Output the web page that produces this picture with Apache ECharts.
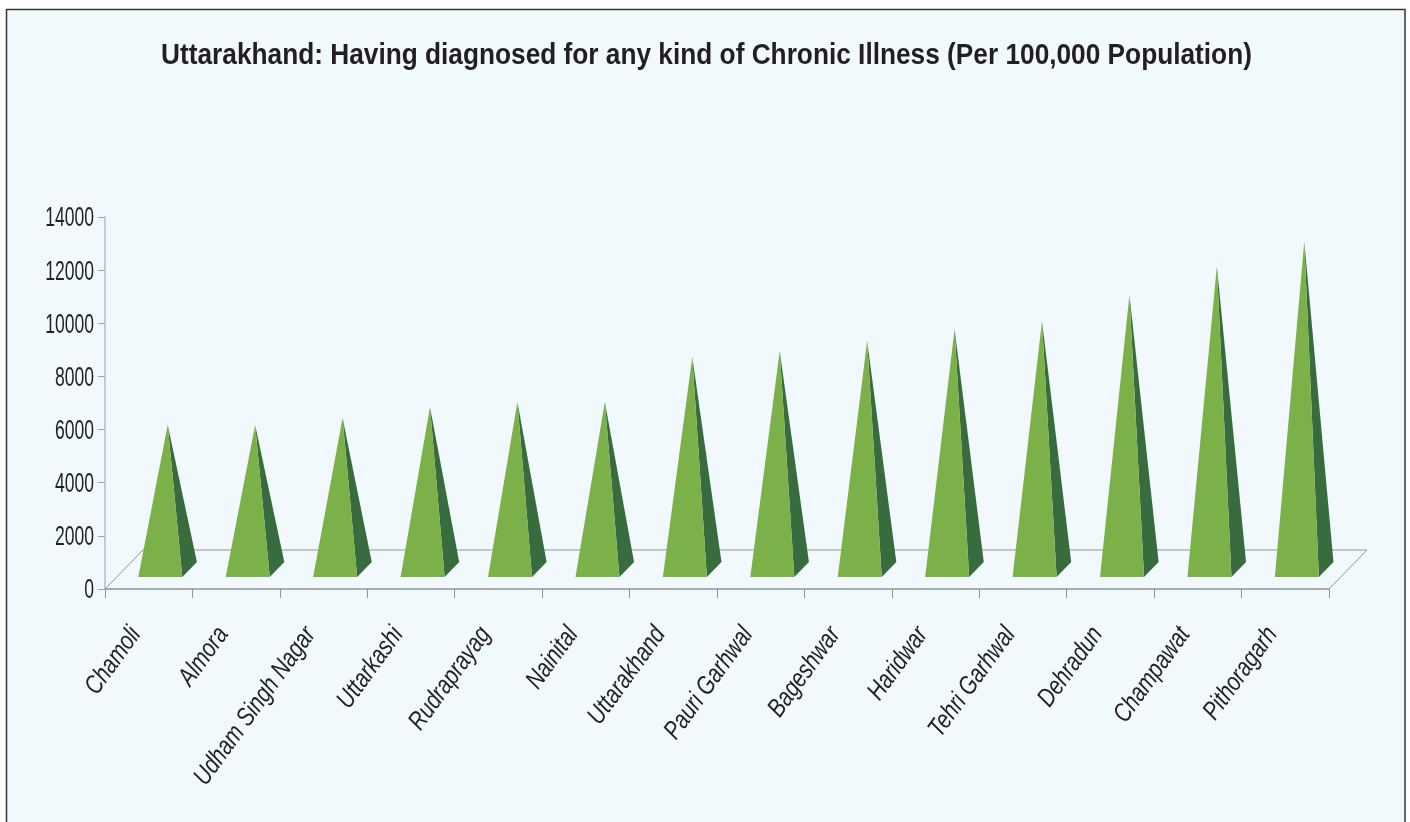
<!DOCTYPE html>
<html><head><meta charset="utf-8">
<style>html,body{margin:0;padding:0;background:#fff;overflow:hidden}#c{width:1410px;height:822px}</style>
<script src="https://cdn.jsdelivr.net/npm/echarts@6/dist/echarts.min.js"></script>
</head><body><div id="c"></div>
<script>
const titleText = 'Uttarakhand: Having diagnosed for any kind of Chronic Illness (Per 100,000 Population)';
const categories = ['Chamoli','Almora','Udham Singh Nagar','Uttarkashi','Rudraprayag','Nainital','Uttarakhand','Pauri Garhwal','Bageshwar','Haridwar','Tehri Garhwal','Dehradun','Champawat','Pithoragarh'];
const values = [6170,6170,6435,6850,7040,7040,8730,8960,9330,9785,10085,11065,12150,13090];
const yTicks = [0,2000,4000,6000,8000,10000,12000,14000];
const FRONT = '#7cb049', SIDE = '#386c3f', EDGE = '#8e9699', BG = '#f1f9fd', INK='#231f20';
const FONT='Liberation Sans';
const chart = echarts.init(document.getElementById('c'), null, {renderer:'canvas'});
chart.setOption({
  animation:false,
  backgroundColor:'#fff',
  graphic:[
    {type:'rect',z:-10,silent:true,shape:{x:6.5,y:9.5,width:1398.5,height:830},style:{fill:BG,stroke:'#333',lineWidth:1.5}},
    {type:'text',z:5,silent:true,x:706.5,y:56,scaleX:0.905,style:{text:titleText,fontFamily:FONT,fontWeight:'bold',fontSize:29,fill:INK,align:'center',verticalAlign:'middle'}}
  ],
  grid:{left:105,right:81,top:217,height:372,containLabel:false},
  xAxis:{type:'category',data:categories,boundaryGap:true,
    axisLine:{lineStyle:{color:EDGE,width:1.5}},
    axisTick:{show:true,interval:0,alignWithLabel:false,length:9,lineStyle:{color:EDGE,width:1}},
    axisLabel:{show:false}},
  yAxis:{type:'value',min:0,max:14000,interval:2000,
    splitLine:{show:false},
    axisLine:{show:true,lineStyle:{color:'#b4bfc3',width:1.5}},
    axisTick:{show:true,length:7,lineStyle:{color:'#a0aaae',width:1}},
    axisLabel:{show:false}},
  series:[
    {type:'custom',silent:true,z:1,coordinateSystem:'cartesian2d',data:[[categories[0],0]],
     renderItem(params,api){
       const c=params.coordSys, L=c.x, R=c.x+c.width, B=c.y+c.height;
       return {type:'polyline',shape:{points:[[L,B],[L+38,B-39],[R+38,B-39],[R,B]]},style:{fill:'none',stroke:EDGE,lineWidth:1}};
     }},
    {type:'custom',silent:true,z:2,coordinateSystem:'cartesian2d',
     data:categories.map((c,i)=>[c,values[i]]),
     renderItem(params,api){
       const p=api.coord([api.value(0),api.value(1)]);
       const B=params.coordSys.y+params.coordSys.height;
       const ax=p[0]+19, ay=p[1], fy=B-12, by=B-27;
       const lx=ax-29.4, rx=ax+14.6, sx=ax+29.2;
       return {type:'group',children:[
         {type:'polygon',shape:{points:[[rx,fy],[sx,by],[ax,ay]]},style:{fill:SIDE}},
         {type:'polygon',shape:{points:[[lx,fy],[rx,fy],[ax,ay]]},style:{fill:FRONT}},
         {type:'text',x:p[0]-13,y:B+41,rotation:54*Math.PI/180,scaleX:0.8,
          style:{text:categories[params.dataIndex],font:'italic 26px "Liberation Sans"',fill:INK,align:'right',verticalAlign:'middle'}}
       ]};
     }},
    {type:'custom',silent:true,z:3,coordinateSystem:'cartesian2d',
     data:yTicks.map(t=>[categories[0],t]),
     renderItem(params,api){
       const p=api.coord([0,api.value(1)]);
       return {type:'text',x:params.coordSys.x-11,y:p[1]+2,scaleX:0.65,
          style:{text:String(yTicks[params.dataIndex]),fontFamily:FONT,fontSize:27,fill:INK,align:'right',verticalAlign:'middle'}};
     }}
  ]
});
</script></body></html>
